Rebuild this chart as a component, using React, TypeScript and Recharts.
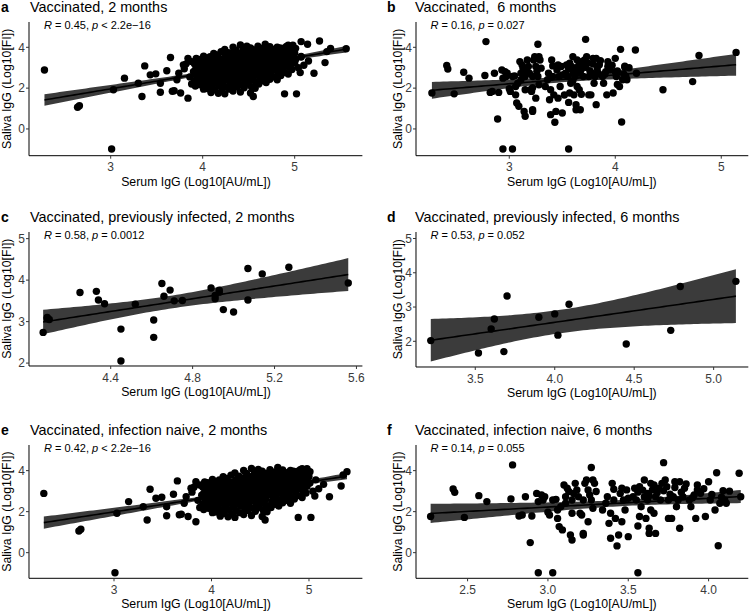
import React from 'react';
import { ComposedChart, XAxis, YAxis, Area, Line, Scatter } from 'recharts';

const FONT = '"Liberation Sans", Arial, Helvetica, sans-serif';

// Saliva vs serum IgG, infection naive, 2 months (panel e)
const naive2m: [number, number][] = [
  // low-serum tail
  [2.28, 2.89], [2.64, 1.06], [2.66, 1.14], [3.01, -0.98], [3.03, 1.92],
  [3.15, 2.49], [3.30, 2.24], [3.34, 1.59], [3.37, 3.09], [3.43, 2.65],
  [3.49, 2.70], [3.54, 2.24], [3.54, 1.80], [3.61, 2.85], [3.65, 3.50],
  [3.67, 1.85], [3.69, 1.87], [3.72, 2.41], [3.74, 2.73], [3.76, 1.76],
  [3.79, 3.14], [3.80, 2.95], [3.82, 3.19], [3.84, 1.51], [3.84, 3.46],
  [3.86, 2.55], [3.88, 3.30], [3.88, 2.20], [3.90, 2.80],
  // main cloud
  [3.92, 2.10], [3.91, 2.35], [3.93, 2.62], [3.92, 2.89], [3.91, 3.20], [3.93, 3.45],
  [3.97, 2.16], [3.96, 2.48], [3.98, 2.81], [3.97, 3.08], [3.96, 3.41],
  [4.01, 1.95], [4.02, 2.12], [4.00, 2.45], [4.01, 2.75], [4.02, 3.02], [4.00, 3.31], [4.01, 3.57],
  [4.05, 1.98], [4.06, 2.30], [4.04, 2.62], [4.05, 2.90], [4.06, 3.18], [4.05, 3.46],
  [4.09, 1.78], [4.10, 2.09], [4.08, 2.44], [4.09, 2.74], [4.10, 3.01], [4.09, 3.29], [4.08, 3.54],
  [4.13, 1.92], [4.14, 2.25], [4.12, 2.58], [4.13, 2.87], [4.14, 3.18], [4.13, 3.45], [4.12, 3.70],
  [4.17, 1.75], [4.18, 2.10], [4.16, 2.40], [4.17, 2.72], [4.18, 3.00], [4.17, 3.30], [4.16, 3.62],
  [4.21, 1.88], [4.22, 2.23], [4.20, 2.55], [4.21, 2.85], [4.22, 3.13], [4.21, 3.43], [4.20, 3.78],
  [4.24, 1.72], [4.25, 2.06], [4.26, 2.39], [4.25, 2.69], [4.24, 2.99], [4.26, 3.29], [4.25, 3.56], [4.24, 3.89],
  [4.29, 1.95], [4.30, 2.27], [4.28, 2.55], [4.29, 2.85], [4.30, 3.13], [4.29, 3.43], [4.28, 3.73],
  [4.33, 1.86], [4.34, 2.18], [4.32, 2.48], [4.33, 2.78], [4.34, 3.06], [4.33, 3.36], [4.32, 3.64], [4.33, 4.01],
  [4.37, 2.06], [4.38, 2.38], [4.36, 2.68], [4.37, 2.96], [4.38, 3.26], [4.37, 3.56], [4.36, 3.86],
  [4.41, 1.81], [4.42, 2.17], [4.40, 2.49], [4.41, 2.79], [4.42, 3.11], [4.41, 3.41], [4.40, 3.71], [4.41, 4.11],
  [4.45, 2.02], [4.46, 2.35], [4.44, 2.65], [4.45, 2.95], [4.46, 3.25], [4.45, 3.55], [4.44, 3.90],
  [4.49, 2.21], [4.50, 2.53], [4.48, 2.86], [4.49, 3.16], [4.50, 3.46], [4.49, 3.79], [4.48, 4.06],
  [4.52, 1.76], [4.55, 1.59],
  [4.53, 2.07], [4.54, 2.40], [4.52, 2.72], [4.53, 3.02], [4.54, 3.34], [4.53, 3.64], [4.52, 3.97],
  [4.57, 1.99], [4.58, 2.29], [4.56, 2.62], [4.57, 2.92], [4.58, 3.22], [4.57, 3.54], [4.56, 3.86],
  [4.61, 2.20], [4.62, 2.50], [4.60, 2.83], [4.61, 3.13], [4.62, 3.45], [4.61, 3.77], [4.60, 4.05],
  [4.65, 2.36], [4.66, 2.68], [4.64, 2.98], [4.65, 3.28], [4.66, 3.61], [4.65, 3.94],
  [4.69, 2.27], [4.70, 2.57], [4.68, 2.89], [4.69, 3.19], [4.70, 3.52], [4.69, 3.85], [4.68, 4.15],
  [4.73, 2.43], [4.74, 2.76], [4.72, 3.08], [4.73, 3.38], [4.74, 3.70], [4.73, 4.03],
  [4.77, 2.55], [4.78, 2.88], [4.76, 3.20], [4.77, 3.52], [4.78, 3.85],
  [4.81, 2.41], [4.82, 2.73], [4.80, 3.06], [4.81, 3.39], [4.82, 3.71], [4.81, 4.01],
  [4.85, 2.62], [4.86, 2.97], [4.84, 3.30], [4.85, 3.62], [4.86, 3.92],
  [4.89, 1.72], [4.89, 2.78], [4.90, 3.11], [4.88, 3.45], [4.89, 3.78],
  [4.93, 2.69], [4.94, 3.02], [4.92, 3.34], [4.93, 3.69], [4.94, 3.99], [4.93, 4.10],
  [4.97, 2.91], [4.98, 3.24], [4.96, 3.56], [4.97, 3.88], [4.98, 4.10],
  [5.02, 1.72], [5.01, 3.40], [5.00, 3.72], [5.01, 3.95],
  // denser core of the cloud
  [3.94, 2.27], [3.95, 2.46], [3.94, 2.74], [3.93, 2.93], [3.95, 3.21],
  [3.99, 2.28], [3.98, 2.57], [4.00, 2.73], [3.99, 3.03], [3.98, 3.22],
  [4.03, 2.36], [4.04, 2.54], [4.03, 2.83], [4.02, 3.04], [4.04, 3.29],
  [4.07, 2.35], [4.07, 2.63], [4.08, 2.81], [4.06, 3.09], [4.07, 3.28],
  [4.11, 2.43], [4.12, 2.61], [4.10, 2.88], [4.11, 3.07], [4.12, 3.35],
  [4.15, 2.42], [4.16, 2.69], [4.15, 2.88], [4.14, 3.15], [4.16, 3.34],
  [4.19, 2.50], [4.19, 2.67], [4.20, 2.95], [4.18, 3.14], [4.19, 3.42],
  [4.23, 2.49], [4.24, 2.77], [4.23, 2.95], [4.22, 3.22], [4.24, 3.41],
  [4.27, 2.57], [4.28, 2.76], [4.27, 3.03], [4.26, 3.22], [4.28, 3.49],
  [4.31, 2.56], [4.31, 2.84], [4.32, 3.02], [4.30, 3.29], [4.31, 3.48],
  [4.35, 2.64], [4.36, 2.83], [4.35, 3.10], [4.34, 3.29], [4.36, 3.56],
  [4.39, 2.63], [4.40, 2.90], [4.39, 3.09], [4.38, 3.36], [4.40, 3.55],
  [4.43, 2.71], [4.43, 2.90], [4.44, 3.17], [4.42, 3.36], [4.43, 3.63],
  [4.47, 2.70], [4.48, 2.98], [4.47, 3.17], [4.46, 3.44], [4.48, 3.63],
  [4.51, 2.78], [4.52, 2.97], [4.51, 3.24], [4.50, 3.43], [4.52, 3.70],
  [4.55, 2.78], [4.55, 3.04], [4.56, 3.24], [4.54, 3.50], [4.55, 3.70],
  [4.59, 2.86], [4.60, 3.04], [4.59, 3.31], [4.58, 3.50], [4.60, 3.77],
  [4.63, 2.85], [4.64, 3.12], [4.63, 3.31], [4.62, 3.57], [4.64, 3.76],
  [4.67, 2.92], [4.67, 3.11], [4.68, 3.39], [4.66, 3.57], [4.67, 3.84],
  [4.71, 2.92], [4.72, 3.19], [4.71, 3.38], [4.70, 3.64], [4.72, 3.83],
  [4.75, 3.00], [4.76, 3.18], [4.75, 3.46], [4.74, 3.64], [4.76, 3.90],
  [4.79, 2.99], [4.79, 3.26], [4.80, 3.45], [4.78, 3.72], [4.79, 3.90],
  [4.83, 3.07], [4.84, 3.25], [4.83, 3.52], [4.82, 3.71], [4.84, 3.97],
  [4.87, 3.07], [4.88, 3.33], [4.87, 3.52], [4.86, 3.79], [4.88, 3.96],
  [4.91, 3.14], [4.91, 3.33], [4.92, 3.60], [4.90, 3.78], [4.91, 4.04],
  [4.95, 3.14], [4.96, 3.40], [4.95, 3.60], [4.94, 3.86], [4.96, 4.02],
  // high-serum tail
  [5.04, 3.00], [5.06, 2.76], [5.07, 3.55], [5.10, 3.12], [5.15, 3.33],
  [5.21, 2.73], [5.33, 3.25], [5.35, 3.79], [5.39, 3.95],
];

// previously infected, 2 months (panel c)
const infected2m: [number, number][] = [
  [4.07, 2.74], [4.09, 3.10], [4.09, 3.07], [4.10, 3.05], [4.25, 3.70],
  [4.33, 3.73], [4.34, 3.52], [4.37, 3.43], [4.45, 2.82], [4.45, 2.05],
  [4.52, 3.42], [4.61, 3.04], [4.61, 2.62], [4.65, 3.92], [4.66, 3.61],
  [4.69, 3.76], [4.71, 3.50], [4.75, 3.51], [4.89, 3.81], [4.91, 3.63],
  [4.91, 3.55], [4.93, 3.76], [4.93, 3.71], [4.95, 3.29], [5.00, 3.23],
  [5.07, 3.52], [5.07, 4.28], [5.14, 4.15], [5.27, 4.31], [5.56, 3.93],
];

// infection naive, 6 months (panel f)
const naive6m: [number, number][] = [
  [2.27, 1.76], [2.41, 3.11], [2.42, 2.94], [2.48, 1.72], [2.57, 2.78],
  [2.62, 2.49], [2.78, 4.28], [2.77, 2.62], [2.82, 1.79], [2.84, 1.84],
  [2.86, 2.73], [2.89, 0.49], [2.90, 1.79], [2.93, 2.89], [2.94, 2.49],
  [2.94, -0.98], [2.96, 2.81], [2.97, 2.57], [2.98, 2.73], [3.00, 1.97],
  [3.01, 1.84], [3.03, -0.98], [3.03, 2.57], [3.05, 2.60], [3.06, 1.67],
  [3.06, 2.08], [3.08, 2.24], [3.07, 1.27], [3.09, 1.11], [3.10, 3.30],
  [3.11, 2.73], [3.11, 2.41], [3.12, 3.14], [3.13, 2.98], [3.14, 0.86],
  [3.15, 0.62], [3.15, 2.57], [3.15, 1.92], [3.16, 2.89], [3.17, 3.38],
  [3.18, 3.06], [3.19, 2.73], [3.20, 1.92], [3.21, 1.84], [3.22, 0.94],
  [3.22, 0.86], [3.22, 2.57], [3.23, 3.38], [3.24, 3.54], [3.25, 3.06],
  [3.25, 1.51], [3.26, 2.81], [3.27, 4.15], [3.27, 2.57], [3.28, 3.54],
  [3.28, 2.16], [3.29, 3.38], [3.30, 2.98], [3.34, 2.08], [3.36, 2.41],
  [3.37, 2.73], [3.38, 1.43], [3.39, 1.92], [3.39, 0.70], [3.40, 3.38],
  [3.41, 3.09], [3.41, 2.57], [3.42, 1.67], [3.43, 0.33], [3.44, 0.86],
  [3.45, 2.89], [3.46, 1.51], [3.46, 3.14], [3.47, 2.57], [3.48, 2.08],
  [3.49, 3.06], [3.50, 0.78], [3.50, 2.65], [3.53, 2.73], [3.54, 3.14],
  [3.55, 2.57], [3.56, -0.98], [3.56, 1.30], [3.57, 1.76], [3.57, 3.22],
  [3.58, 2.24], [3.60, 2.73], [3.60, 3.54], [3.61, 1.67], [3.62, 2.89],
  [3.62, 2.57], [3.63, 1.19], [3.63, 0.94], [3.64, 2.08], [3.64, 3.38],
  [3.65, 3.06], [3.66, 1.92], [3.67, 2.73], [3.67, 0.94], [3.69, 3.14],
  [3.70, 2.57], [3.71, 3.38], [3.72, 4.39], [3.73, 3.54], [3.74, 3.22],
  [3.75, 2.57], [3.75, 1.67], [3.77, 1.67], [3.78, 2.73], [3.79, 3.46],
  [3.80, 2.24], [3.81, 2.57], [3.82, 3.46], [3.82, 1.19], [3.84, 2.73],
  [3.85, 3.14], [3.88, 2.57], [3.89, 2.24], [3.91, 2.81], [3.92, 1.67],
  [3.93, 3.30], [3.93, 3.06], [3.98, 1.76], [4.00, 3.46], [4.01, 2.57],
  [4.04, 2.08], [4.05, 3.90], [4.06, 0.34], [4.07, 2.41], [4.09, 3.02],
  [4.10, 2.57], [4.11, 2.41], [4.19, 3.87], [4.20, 2.73],
  [3.56, 2.95], [3.59, 3.05], [3.63, 2.78], [3.66, 3.30], [3.68, 2.92],
  [3.72, 3.02], [3.76, 2.85], [3.79, 3.18], [3.83, 2.95], [3.86, 3.35],
  [3.90, 2.68], [3.95, 2.90], [3.97, 3.12], [4.02, 2.84], [4.08, 2.70],
  [4.13, 3.00],
];

// previously infected, 6 months (panel d)
const infected6m: [number, number][] = [
  [3.22, 2.02], [3.52, 1.66], [3.60, 2.36], [3.62, 2.65], [3.68, 1.70],
  [3.70, 3.32], [3.90, 2.70], [4.00, 2.80], [4.02, 2.18], [4.09, 3.08],
  [4.45, 1.92], [4.73, 2.32], [4.79, 3.60], [5.14, 3.75],
];

const ticksWide = [3, 4, 5];
const ticksC = [4.4, 4.8, 5.2, 5.6];
const ticksD = [3.5, 4.0, 4.5, 5.0];
const ticksF = [2.5, 3.0, 3.5, 4.0];
const ticksY = [0, 2, 4];
const ticksYInf = [2, 3, 4, 5];

const statR = ['0.45', '0.16', '0.58', '0.53', '0.42', '0.14'];
const statP = ['< 2.2e\u221216', '= 0.027', '= 0.0012', '= 0.052', '< 2.2e\u221216', '= 0.055'];
const titles = [
  'Vaccinated, 2 months',
  'Vaccinated,  6 months',
  'Vaccinated, previously infected, 2 months',
  'Vaccinated, previously infected, 6 months',
  'Vaccinated, infection naive, 2 months',
  'Vaccinated, infection naive, 6 months',
];
const letters = ['a', 'b', 'c', 'd', 'e', 'f'];

// t quantile (97.5%) via Cornish-Fisher expansion
const tq = (df: number) => {
  const z = 1.959964;
  const z3 = z ** 3, z5 = z ** 5, z7 = z ** 7;
  return z + (z3 + z) / (4 * df) + (5 * z5 + 16 * z3 + 3 * z) / (96 * df * df)
    + (3 * z7 + 19 * z5 + 17 * z3 - 15 * z) / (384 * df ** 3);
};

// lm fit + 95% CI, like geom_smooth(method = "lm")
function fitBand(pts: [number, number][]) {
  const n = pts.length;
  const mx = pts.reduce((s, p) => s + p[0], 0) / n;
  const my = pts.reduce((s, p) => s + p[1], 0) / n;
  let sxx = 0, sxy = 0;
  pts.forEach(([x, y]) => { sxx += (x - mx) ** 2; sxy += (x - mx) * (y - my); });
  const b = sxy / sxx;
  const a = my - b * mx;
  const sse = pts.reduce((s, [x, y]) => s + (y - a - b * x) ** 2, 0);
  const s = Math.sqrt(sse / (n - 2));
  const t = tq(n - 2);
  const xs = pts.map(p => p[0]);
  const lo = Math.min(...xs), hi = Math.max(...xs);
  const rows = [];
  for (let i = 0; i <= 80; i++) {
    const x = lo + ((hi - lo) * i) / 80;
    const fit = a + b * x;
    const se = s * Math.sqrt(1 / n + (x - mx) ** 2 / sxx);
    rows.push({ x, fit, band: [fit - t * se, fit + t * se] });
  }
  return rows;
}

const panels = [
  { pts: naive2m.concat(infected2m), box: [29.3, 22, 362.7, 155.7], xd: [2.112, 5.736], yd: [-1.31, 5.24], xt: ticksWide, yt: ticksY, dec: 0 },
  { pts: naive6m.concat(infected6m), box: [415.7, 22, 748, 155.7], xd: [2.12, 5.255], yd: [-1.31, 5.24], xt: ticksWide, yt: ticksY, dec: 0 },
  { pts: infected2m, box: [29.3, 231.7, 362.7, 365.7], xd: [4.001, 5.629], yd: [1.93, 5.16], xt: ticksC, yt: ticksYInf, dec: 1 },
  { pts: infected6m, box: [415.7, 231.7, 748, 366.7], xd: [3.127, 5.218], yd: [1.25, 5.19], xt: ticksD, yt: ticksYInf, dec: 1 },
  { pts: naive2m, box: [29.3, 445, 362.7, 578.3], xd: [2.128, 5.548], yd: [-1.25, 5.25], xt: ticksWide, yt: ticksY, dec: 0 },
  { pts: naive6m, box: [415.7, 445, 748, 578.3], xd: [2.179, 4.247], yd: [-1.25, 5.25], xt: ticksF, yt: ticksY, dec: 1 },
];

const tickStyle = { fontSize: 12, fill: '#3a3a3a', fontFamily: FONT };

const Dot = (props: any) => <circle cx={props.cx} cy={props.cy} r={3.7} fill="#000" />;

function Panel({ p }: { p: typeof panels[number] }) {
  const rows = fitBand(p.pts as [number, number][]);
  const pts = p.pts.map(([x, y]) => ({ x, y }));
  const [x0, y0, x1, y1] = p.box;
  return (
    <div style={{ position: 'absolute', left: x0 - 40, top: y0 - 4 }}>
      <ComposedChart width={x1 - x0 + 42} height={y1 - y0 + 34} data={rows}
        margin={{ top: 4, right: 2, left: 0, bottom: 0 }}>
        <XAxis type="number" dataKey="x" domain={p.xd} ticks={p.xt} allowDataOverflow interval={0}
          height={30} tickSize={3} tickMargin={4} tick={tickStyle}
          tickFormatter={(v: number) => v.toFixed(p.dec)}
          axisLine={{ stroke: '#000', strokeWidth: 1 }} tickLine={{ stroke: '#333' }} />
        <YAxis type="number" domain={p.yd} ticks={p.yt} allowDataOverflow interval={0}
          width={40} tickSize={3} tickMargin={1} tick={tickStyle}
          axisLine={{ stroke: '#000', strokeWidth: 1 }} tickLine={{ stroke: '#333' }} />
        <Area dataKey="band" type="linear" stroke="none" fill="#3b3b3b" fillOpacity={1}
          isAnimationActive={false} />
        <Scatter data={pts} dataKey="y" shape={Dot} isAnimationActive={false} />
        <Line dataKey="fit" type="linear" stroke="#000" strokeWidth={1.6} dot={false}
          isAnimationActive={false} />
      </ComposedChart>
    </div>
  );
}

export default function App() {
  return (
    <div style={{ position: 'absolute', left: 0, top: 0, width: 750, height: 611, background: '#fff', overflow: 'hidden' }}>
      {panels.map((p, i) => <Panel key={i} p={p} />)}
      <svg width={750} height={611} style={{ position: 'absolute', left: 0, top: 0, pointerEvents: 'none' }}
        fontFamily={FONT}>
        {panels.map((p, i) => {
          const [x0, y0, x1, y1] = p.box;
          const left = i % 2 === 0;
          const base = y0 - 10;
          return (
            <g key={i}>
              <text x={left ? 1 : 387} y={base} fontSize={14} fontWeight="bold">{letters[i]}</text>
              <text x={left ? 30 : 415} y={base} fontSize={14.4} style={{ whiteSpace: 'pre' }}>{titles[i]}</text>
              <text x={x0 + 14.7} y={y0 + 7} fontSize={11}>
                <tspan fontStyle="italic">R</tspan>{` = ${statR[i]}, `}
                <tspan fontStyle="italic">p</tspan>{` ${statP[i]}`}
              </text>
              <text x={(x0 + x1) / 2} y={y1 + 30} fontSize={12.3} textAnchor="middle">
                Serum IgG (Log10[AU/mL])
              </text>
              <text transform={`translate(${left ? 6.7 : 397.5}, ${(y0 + y1) / 2}) rotate(-90)`}
                fontSize={12.3} textAnchor="middle" dominantBaseline="central">
                Saliva IgG (Log10[FI])
              </text>
            </g>
          );
        })}
      </svg>
    </div>
  );
}
